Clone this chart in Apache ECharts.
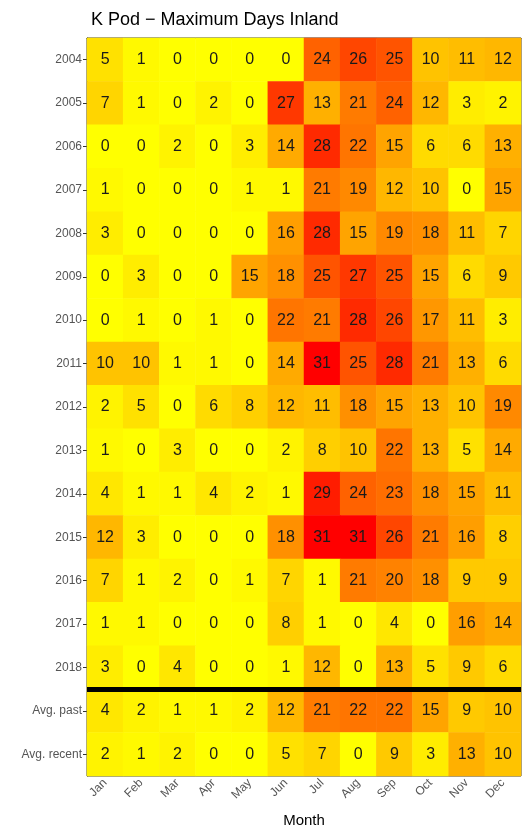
<!DOCTYPE html>
<html lang="en">
<head>
    <meta charset="UTF-8">
    <script src="https://cdn.jsdelivr.net/npm/echarts@6/dist/echarts.min.js"></script>
    <title>K Pod - Maximum Days Inland</title>
</head>
<body style="margin: 0; background: #fff">
<div id="container" style="width: 526px; height: 831px"></div>

<script>
    // 横轴：月份
    var months = ['Jan', 'Feb', 'Mar', 'Apr', 'May', 'Jun', 'Jul', 'Aug', 'Sep', 'Oct', 'Nov', 'Dec'];
    // 纵轴：年份 + 两行平均值
    var rowLabels = ['2004', '2005', '2006', '2007', '2008', '2009', '2010', '2011', '2012',
        '2013', '2014', '2015', '2016', '2017', '2018', 'Avg. past', 'Avg. recent'];

    var y2004 = [5, 1, 0, 0, 0, 0, 24, 26, 25, 10, 11, 12];
    var y2005 = [7, 1, 0, 2, 0, 27, 13, 21, 24, 12, 3, 2];
    var y2006 = [0, 0, 2, 0, 3, 14, 28, 22, 15, 6, 6, 13];
    var y2007 = [1, 0, 0, 0, 1, 1, 21, 19, 12, 10, 0, 15];
    var y2008 = [3, 0, 0, 0, 0, 16, 28, 15, 19, 18, 11, 7];
    var y2009 = [0, 3, 0, 0, 15, 18, 25, 27, 25, 15, 6, 9];
    var y2010 = [0, 1, 0, 1, 0, 22, 21, 28, 26, 17, 11, 3];
    var y2011 = [10, 10, 1, 1, 0, 14, 31, 25, 28, 21, 13, 6];
    var y2012 = [2, 5, 0, 6, 8, 12, 11, 18, 15, 13, 10, 19];
    var y2013 = [1, 0, 3, 0, 0, 2, 8, 10, 22, 13, 5, 14];
    var y2014 = [4, 1, 1, 4, 2, 1, 29, 24, 23, 18, 15, 11];
    var y2015 = [12, 3, 0, 0, 0, 18, 31, 31, 26, 21, 16, 8];
    var y2016 = [7, 1, 2, 0, 1, 7, 1, 21, 20, 18, 9, 9];
    var y2017 = [1, 1, 0, 0, 0, 8, 1, 0, 4, 0, 16, 14];
    var y2018 = [3, 0, 4, 0, 0, 1, 12, 0, 13, 5, 9, 6];
    var avgPast = [4, 2, 1, 1, 2, 12, 21, 22, 22, 15, 9, 10];
    var avgRecent = [2, 1, 2, 0, 0, 5, 7, 0, 9, 3, 13, 10];

    var rows = [y2004, y2005, y2006, y2007, y2008, y2009, y2010, y2011, y2012,
        y2013, y2014, y2015, y2016, y2017, y2018, avgPast, avgRecent];

    // 转成 heatmap 需要的 [x, y, value]
    var cells = [];
    rows.forEach(function (row, r) {
        row.forEach(function (v, m) {
            cells.push([m, r, v]);
        });
    });

    // 分隔线放在 Avg. past 那一行的上边界
    var separatorAt = rowLabels.indexOf('Avg. past');

    var myChart = echarts.init(document.getElementById('container'));

    var option = {
        animation: false,
        textStyle: {fontFamily: 'Liberation Sans, Arial, sans-serif'},
        title: {
            text: 'K Pod \u2212 Maximum Days Inland',
            left: 86,
            top: 6,
            textStyle: {fontSize: 18, fontWeight: 'normal', color: '#000'}
        },
        grid: {
            left: 87,
            right: 5,
            top: 38,
            bottom: 55,
            containLabel: false,
            outerBoundsMode: 'none',
            show: true,
            borderColor: '#333',
            borderWidth: 1,
            backgroundColor: '#fff'
        },
        xAxis: {
            type: 'category',
            data: months,
            name: 'Month',
            nameLocation: 'middle',
            nameGap: 37,
            nameTextStyle: {fontSize: 15, color: '#000'},
            axisLine: {show: true, lineStyle: {color: '#333'}},
            axisTick: {show: true, alignWithLabel: true, length: 4, lineStyle: {color: '#333'}},
            axisLabel: {rotate: 45, fontSize: 12, color: '#555', margin: 5},
            splitLine: {show: false}
        },
        yAxis: [{
            type: 'category',
            data: rowLabels,
            inverse: true,
            axisLine: {show: true, lineStyle: {color: '#333'}},
            axisTick: {show: true, alignWithLabel: true, length: 4, lineStyle: {color: '#333'}},
            axisLabel: {fontSize: 12, color: '#555', margin: 5},
            splitLine: {show: false}
        }, {
            // 隐藏的数值轴，只用来定位分隔线
            type: 'value',
            min: 0,
            max: rowLabels.length,
            inverse: true,
            show: false
        }],
        visualMap: {
            show: false,
            type: 'continuous',
            min: 0,
            max: 31,
            dimension: 2,
            seriesIndex: 0,
            inRange: {color: ['#ffff00', '#ffd100', '#ffa100', '#ff6c00', '#ff0000']}
        },
        series: [{
            type: 'heatmap',
            data: cells,
            label: {
                show: true,
                fontSize: 16,
                color: '#1a1a1a'
            },
            itemStyle: {borderWidth: 0}
        }, {
            type: 'line',
            xAxisIndex: 0,
            yAxisIndex: 1,
            data: [],
            z: 5,
            markLine: {
                silent: true,
                symbol: 'none',
                label: {show: false},
                lineStyle: {color: '#000', width: 5, type: 'solid'},
                data: [{yAxis: separatorAt}]
            }
        }]
    };

    myChart.setOption(option);
</script>
</body>
</html>
